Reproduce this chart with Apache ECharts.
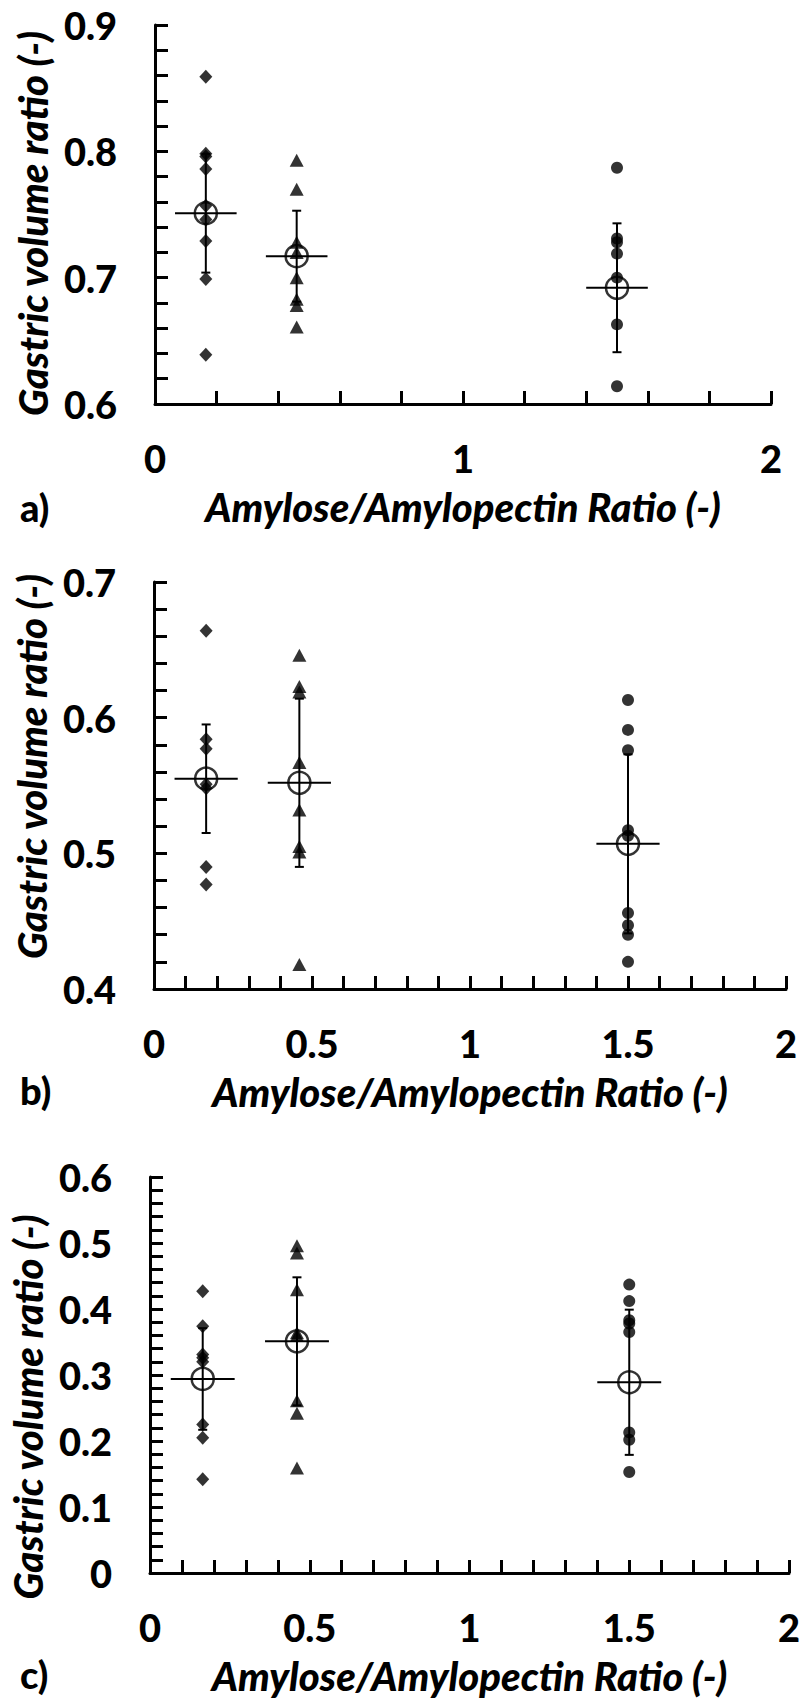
<!DOCTYPE html>
<html><head><meta charset="utf-8">
<script src="https://cdn.jsdelivr.net/npm/echarts@6/dist/echarts.min.js"></script>
<style>html,body{margin:0;padding:0;background:#fff}#c{width:800px;height:1705px}</style>
</head><body><div id="c"></div>
<script>
// group x positions (Amylose/Amylopectin ratio)
const groupX = [0.165, 0.46, 1.5];
const xErr = [0.1, 0.1, 0.1];
const xTicksA = ['0', '1', '2'];
const xTicksBC = ['0', '0.5', '1', '1.5', '2'];

// Panel a
const aDiamond = [0.859, 0.798, 0.796, 0.786, 0.757, 0.746, 0.729, 0.699, 0.639];
const aTriangle = [0.793, 0.770, 0.728, 0.720, 0.700, 0.683, 0.678, 0.661];
const aCircle = [0.787, 0.731, 0.728, 0.719, 0.700, 0.663, 0.614];
const aMean = [0.751, 0.717, 0.692];
const aSD = [0.047, 0.036, 0.051];

// Panel b
const bDiamond = [0.664, 0.584, 0.577, 0.551, 0.548, 0.490, 0.477];
const bTriangle = [0.646, 0.623, 0.619, 0.567, 0.532, 0.505, 0.501, 0.418];
const bCircle = [0.613, 0.591, 0.576, 0.517, 0.513, 0.456, 0.447, 0.440, 0.420];
const bMean = [0.555, 0.552, 0.507];
const bSD = [0.040, 0.062, 0.066];

// Panel c
const cDiamond = [0.427, 0.374, 0.331, 0.326, 0.320, 0.225, 0.205, 0.142];
const cTriangle = [0.496, 0.485, 0.429, 0.364, 0.360, 0.261, 0.242, 0.159];
const cCircle = [0.437, 0.412, 0.383, 0.378, 0.365, 0.213, 0.202, 0.153];
const cMean = [0.294, 0.351, 0.289];
const cSD = [0.077, 0.097, 0.110];

const panelLetters = ['a)', 'b)', 'c)'];
const xTitle = 'Amylose/Amylopectin Ratio (-)';
const yTitle = 'Gastric volume ratio (-)';

const FONT = 'Lato';
const BLACK = '#000';
const LABEL_SIZE = 38;
const TITLE_SIZE = 40;

const grids = [
  {left: 155, top: 25, width: 616, height: 379},
  {left: 154, top: 582, width: 632, height: 407},
  {left: 150, top: 1177, width: 639, height: 396}
];
const yRanges = [[0.6, 0.9], [0.4, 0.7], [0, 0.6]];
const xIntervals = [1, 0.5, 0.5];
const yNamePad = [[0, 18, 0, 0], [0, 0, 0, 38], [0, 64, 0, 0]];
const letterY = [507, 1090, 1674];

function xAxisCfg(i) {
  const labels = i === 0 ? xTicksA : xTicksBC;
  return {
    type: 'value', gridIndex: i, min: 0, max: 2, interval: xIntervals[i],
    name: xTitle, nameLocation: 'middle', nameGap: 83, nameMoveOverlap: false,
    nameTextStyle: {color: BLACK, fontFamily: FONT, fontWeight: 900, fontStyle: 'italic', fontSize: TITLE_SIZE},
    axisLine: {show: true, onZero: false, lineStyle: {color: BLACK, width: 3}},
    axisTick: {show: true, inside: true, length: 13, lineStyle: {color: BLACK, width: 3}},
    minorTick: {show: true, splitNumber: 5, length: 13, lineStyle: {color: BLACK, width: 3}},
    axisLabel: {color: BLACK, fontFamily: FONT, fontWeight: 900, fontSize: LABEL_SIZE, margin: 35,
      formatter: v => { const s = String(+v.toFixed(2)); return labels.includes(s) ? s : ''; }},
    splitLine: {show: false}
  };
}
function yAxisCfg(i) {
  return {
    type: 'value', gridIndex: i, min: yRanges[i][0], max: yRanges[i][1], interval: 0.1,
    name: yTitle, nameLocation: 'middle', nameRotate: 90, nameGap: 102, nameMoveOverlap: false,
    nameTextStyle: {color: BLACK, fontFamily: FONT, fontWeight: 900, fontStyle: 'italic', fontSize: TITLE_SIZE, padding: yNamePad[i]},
    axisLine: {show: true, onZero: false, lineStyle: {color: BLACK, width: 3}},
    axisTick: {show: true, inside: true, length: 13, lineStyle: {color: BLACK, width: 3}},
    minorTick: {show: true, splitNumber: 5, length: 13, lineStyle: {color: BLACK, width: 3}},
    axisLabel: {color: BLACK, fontFamily: FONT, fontWeight: 900, fontSize: LABEL_SIZE, margin: 38,
      formatter: v => String(+v.toFixed(2))},
    splitLine: {show: false}
  };
}

function pts(x, arr) { return arr.map(v => [x, v]); }

function errRender(params, api) {
  const x = api.value(0), m = api.value(1), sd = api.value(2), dx = api.value(3);
  const top = api.coord([x, m + sd]);
  const bot = api.coord([x, m - sd]);
  const l = api.coord([x - dx, m]);
  const r = api.coord([x + dx, m]);
  const cap = 4.5;
  const style = {stroke: BLACK, lineWidth: 2, fill: null};
  return {type: 'group', children: [
    {type: 'line', shape: {x1: top[0], y1: top[1], x2: bot[0], y2: bot[1]}, style},
    {type: 'line', shape: {x1: top[0] - cap, y1: top[1], x2: top[0] + cap, y2: top[1]}, style},
    {type: 'line', shape: {x1: bot[0] - cap, y1: bot[1], x2: bot[0] + cap, y2: bot[1]}, style},
    {type: 'line', shape: {x1: l[0], y1: l[1], x2: r[0], y2: r[1]}, style}
  ]};
}

const panels = [
  {d: aDiamond, t: aTriangle, c: aCircle, m: aMean, s: aSD},
  {d: bDiamond, t: bTriangle, c: bCircle, m: bMean, s: bSD},
  {d: cDiamond, t: cTriangle, c: cCircle, m: cMean, s: cSD}
];

const series = [];
panels.forEach((p, i) => {
  const base = {type: 'scatter', xAxisIndex: i, yAxisIndex: i, itemStyle: {color: BLACK}, z: 2, silent: true};
  series.push(Object.assign({}, base, {symbol: 'diamond', symbolSize: [13, 14], data: pts(groupX[0], p.d)}));
  series.push(Object.assign({}, base, {symbol: 'triangle', symbolSize: [14, 13], data: pts(groupX[1], p.t)}));
  series.push(Object.assign({}, base, {symbol: 'circle', symbolSize: 12, data: pts(groupX[2], p.c)}));
  series.push({type: 'custom', xAxisIndex: i, yAxisIndex: i, z: 3, silent: true,
    renderItem: errRender, data: groupX.map((x, k) => [x, p.m[k], p.s[k], xErr[k]])});
  series.push({type: 'scatter', xAxisIndex: i, yAxisIndex: i, z: 4, silent: true, symbol: 'circle', symbolSize: 22,
    itemStyle: {color: 'rgba(0,0,0,0)', borderColor: BLACK, borderWidth: 2.5},
    data: groupX.map((x, k) => [x, p.m[k]])});
});

const chart = echarts.init(document.getElementById('c'), null, {renderer: 'svg', width: 800, height: 1705});
chart.setOption({
  animation: false,
  backgroundColor: '#fff',
  grid: grids.map(g => Object.assign({outerBoundsMode: 'none', containLabel: false}, g)),
  xAxis: [0, 1, 2].map(xAxisCfg),
  yAxis: [0, 1, 2].map(yAxisCfg),
  graphic: panelLetters.map((t, i) => ({type: 'text', x: 20, y: letterY[i],
    style: {text: t, fill: BLACK, font: '900 ' + LABEL_SIZE + 'px Lato', textVerticalAlign: 'middle'}})),
  series
});
</script></body></html>
